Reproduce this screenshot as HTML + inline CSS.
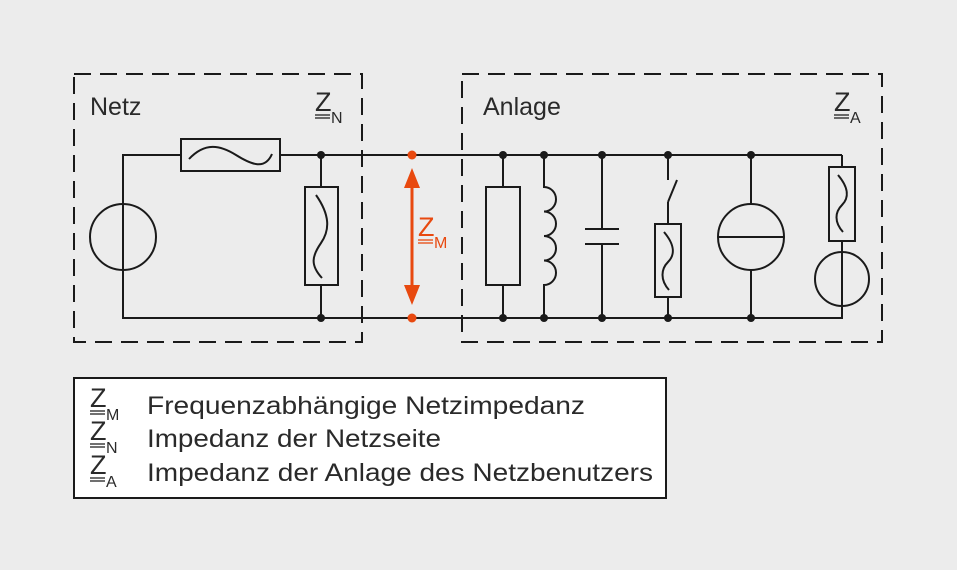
<!DOCTYPE html>
<html><head><meta charset="utf-8"><style>
html,body{margin:0;padding:0;background:#ececec}
svg{display:block}
text{font-family:"Liberation Sans",sans-serif;fill:#2a2a2a}
</style></head><body>
<svg width="957" height="570" viewBox="0 0 957 570" xmlns="http://www.w3.org/2000/svg">
<rect width="957" height="570" fill="#ececec"/>
<g fill="none" stroke="#1a1a1a" stroke-width="2">
<rect x="74" y="74" width="288" height="268" stroke-dasharray="17,9"/>
<rect x="462" y="74" width="420" height="268" stroke-dasharray="17,9"/>
</g>
<g fill="none" stroke="#1a1a1a" stroke-width="2">
<polyline points="181,155 123,155 123,318 842,318 842,279"/>
<line x1="280" y1="155" x2="842" y2="155"/>
<line x1="842" y1="155" x2="842" y2="167"/>
<circle cx="123" cy="237" r="33"/>
<rect x="181" y="139" width="99" height="32" fill="#ececec"/>
<path d="M189,159 C205,142 220,145 236,155 S265,170 272,154"/>
<line x1="321" y1="155" x2="321" y2="318"/>
<rect x="305" y="187" width="33" height="98" fill="#ececec"/>
<path d="M316,195 C330,215 330,230 321,243 S310,265 322,278"/>
<line x1="503" y1="155" x2="503" y2="318"/>
<rect x="486" y="187" width="34" height="98" fill="#ececec"/>
<path d="M544,155 V187 A12,12.25 0 0 1 544,211.5 A12,12.25 0 0 1 544,236 A12,12.25 0 0 1 544,260.5 A12,12.25 0 0 1 544,285 V318"/>
<line x1="602" y1="155" x2="602" y2="229"/>
<line x1="602" y1="244" x2="602" y2="318"/>
<line x1="585" y1="229" x2="619" y2="229"/>
<line x1="585" y1="244" x2="619" y2="244"/>
<line x1="668" y1="155" x2="668" y2="180"/>
<line x1="668" y1="202" x2="677" y2="180"/>
<line x1="668" y1="202" x2="668" y2="318"/>
<rect x="655" y="224" width="26" height="73" fill="#ececec"/>
<path d="M664,232 C675,245 675,255 668,262 S660,280 669,290"/>
<line x1="751" y1="155" x2="751" y2="318"/>
<circle cx="751" cy="237" r="33" fill="#ececec"/>
<line x1="718" y1="237" x2="784" y2="237"/>
<rect x="829" y="167" width="26" height="74" fill="#ececec"/>
<path d="M838,175 C849,188 849,198 842,205 S834,222 843,232"/>
<line x1="842" y1="241" x2="842" y2="318"/>
<circle cx="842" cy="279" r="27"/>
</g>
<g fill="#1a1a1a">
<circle cx="321" cy="155" r="4"/><circle cx="321" cy="318" r="4"/>
<circle cx="503" cy="155" r="4"/><circle cx="503" cy="318" r="4"/>
<circle cx="544" cy="155" r="4"/><circle cx="544" cy="318" r="4"/>
<circle cx="602" cy="155" r="4"/><circle cx="602" cy="318" r="4"/>
<circle cx="668" cy="155" r="4"/><circle cx="668" cy="318" r="4"/>
<circle cx="751" cy="155" r="4"/><circle cx="751" cy="318" r="4"/>
</g>
<g fill="#e8490f" stroke="none">
<circle cx="412" cy="155" r="4.5"/><circle cx="412" cy="318" r="4.5"/>
<rect x="410.5" y="185" width="3" height="108"/>
<polygon points="412,168 404,188 420,188"/>
<polygon points="412,305 404,285 420,285"/>
</g>
<text x="418" y="236" font-size="27" style="fill:#e8490f">Z</text>
<text x="434" y="248" font-size="16" style="fill:#e8490f">M</text>
<line x1="418" y1="240" x2="433" y2="240" stroke="#e8490f" stroke-width="1.3"/>
<line x1="418" y1="243" x2="433" y2="243" stroke="#e8490f" stroke-width="1.3"/>
<text x="90" y="115" font-size="25">Netz</text>
<text x="483" y="115" font-size="25">Anlage</text>
<text x="315" y="111" font-size="27">Z</text>
<text x="331" y="123" font-size="16">N</text>
<line x1="315" y1="115" x2="330" y2="115" stroke="#222" stroke-width="1.3"/>
<line x1="315" y1="118" x2="330" y2="118" stroke="#222" stroke-width="1.3"/>
<text x="834" y="111" font-size="27">Z</text>
<text x="850" y="123" font-size="16">A</text>
<line x1="834" y1="115" x2="849" y2="115" stroke="#222" stroke-width="1.3"/>
<line x1="834" y1="118" x2="849" y2="118" stroke="#222" stroke-width="1.3"/>
<rect x="74" y="378" width="592" height="120" fill="#fff" stroke="#1a1a1a" stroke-width="2"/>
<g font-size="25">
<text x="90" y="407" font-size="27">Z</text><text x="106" y="420" font-size="16">M</text>
<text x="147" y="414" textLength="438" lengthAdjust="spacingAndGlyphs">Frequenzabhängige Netzimpedanz</text>
<text x="90" y="440" font-size="27">Z</text><text x="106" y="453" font-size="16">N</text>
<text x="147" y="447" textLength="294" lengthAdjust="spacingAndGlyphs">Impedanz der Netzseite</text>
<text x="90" y="474" font-size="27">Z</text><text x="106" y="487" font-size="16">A</text>
<text x="147" y="481" textLength="506" lengthAdjust="spacingAndGlyphs">Impedanz der Anlage des Netzbenutzers</text>
</g>
<g stroke="#222" stroke-width="1.3">
<line x1="90" y1="411" x2="105" y2="411"/><line x1="90" y1="414" x2="105" y2="414"/>
<line x1="90" y1="444" x2="105" y2="444"/><line x1="90" y1="447" x2="105" y2="447"/>
<line x1="90" y1="478" x2="105" y2="478"/><line x1="90" y1="481" x2="105" y2="481"/>
</g>
</svg>
</body></html>
